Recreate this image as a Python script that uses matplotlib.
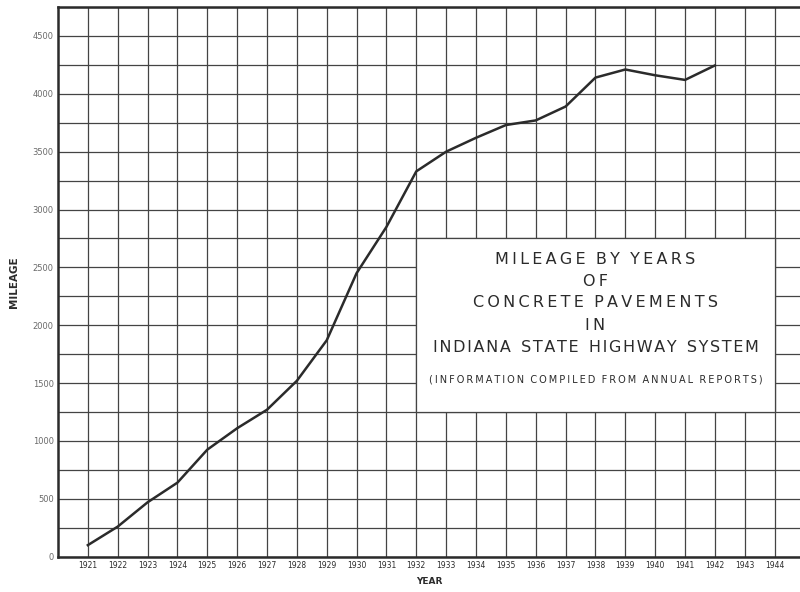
import matplotlib
matplotlib.use("Agg")
import matplotlib.pyplot as plt  # noqa: E402
import matplotlib.patches as patches  # noqa: E402

# Miles of concrete pavement, Indiana State Highway System
years = [1921, 1922, 1923, 1924, 1925, 1926, 1927, 1928, 1929, 1930, 1931,
         1932, 1933, 1934, 1935, 1936, 1937, 1938, 1939, 1940, 1941, 1942]
mileage = [100, 260, 470, 640, 925, 1110, 1270, 1520, 1870, 2450, 2850,
           3330, 3500, 3620, 3730, 3770, 3890, 4140, 4210, 4160, 4120, 4245]

year_ticks = list(range(1921, 1945))
mile_ticks = list(range(0, 5000, 500))
mile_grid = list(range(0, 4751, 250))

title_lines = ["MILEAGE BY YEARS", "OF", "CONCRETE PAVEMENTS", "IN",
               "INDIANA STATE HIGHWAY SYSTEM"]
note = "(INFORMATION COMPILED FROM ANNUAL REPORTS)"

INK = "#2b2b2b"
GRID = "#444444"
HAIR = "\u200a"


def spaced(s, gap=1):
    # hand-lettered look: open up letters and words a little
    words = [(HAIR * gap).join(w) for w in s.split(" ")]
    return "  ".join(words)


fig = plt.figure(figsize=(8, 5.92), dpi=100)
ax = fig.add_axes([58 / 800, (592 - 556.7) / 592, 1 - 58 / 800, 549.7 / 592])
ax.set_xlim(1920, 1944.85)
ax.set_ylim(0, 4750)

# graph-paper grid
ax.set_xticks(year_ticks)
ax.set_xticklabels([str(y) for y in year_ticks], fontsize=5.5, color=INK)
ax.set_yticks(mile_ticks)
ax.set_yticklabels([str(m) for m in mile_ticks], fontsize=6, color="#6a6a6a")
ax.set_yticks(mile_grid, minor=True)
ax.tick_params(axis="both", which="both", length=0, pad=3)
ax.grid(True, which="both", color=GRID, linewidth=0.9)
ax.set_axisbelow(True)
for side in ["left", "bottom", "top"]:
    ax.spines[side].set_linewidth(1.8)
    ax.spines[side].set_color(INK)
ax.spines["right"].set_visible(False)

ax.set_xlabel("YEAR", fontsize=6.5, fontweight="bold", color=INK, labelpad=5)
ax.set_ylabel("MILEAGE", fontsize=7.5, fontweight="bold", color=INK, labelpad=10)

ax.plot(years, mileage, color=INK, linewidth=1.8, zorder=5,
        solid_joinstyle="round")

# title box over the grid
box = patches.Rectangle((1932, 1250), 12, 1500, facecolor="white",
                        edgecolor=GRID, linewidth=0.9, zorder=3)
ax.add_patch(box)
line_y = [2564, 2377, 2195, 1997, 1810]
for txt, y in zip(title_lines, line_y):
    gap = 1 if txt.startswith("INDIANA") else 2
    ax.text(1938, y, spaced(txt, gap), ha="center", va="center", fontsize=11.5,
            color=INK, zorder=6)
ax.text(1938, 1527, spaced(note, 2), ha="center", va="center", fontsize=7,
        color=INK, zorder=6)

fig.savefig("out.png", dpi=100)
